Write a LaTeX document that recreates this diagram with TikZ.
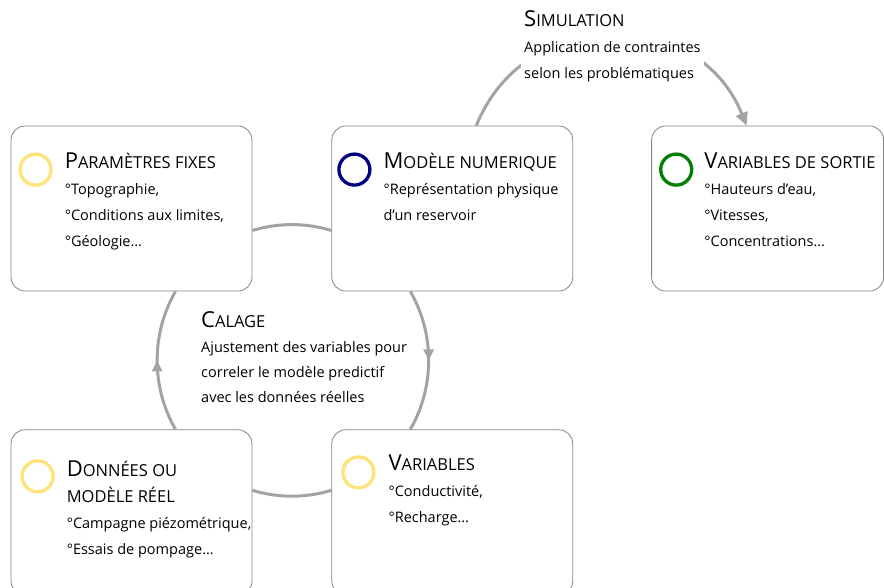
\documentclass[tikz,border=0pt]{standalone}
\usepackage{fontspec}
\setmainfont{Open Sans}
\usetikzlibrary{positioning,arrows.meta,decorations.markings}

\definecolor{jaune}{HTML}{FFE27A}
\definecolor{marine}{HTML}{000080}
\definecolor{vert}{HTML}{008000}
\definecolor{trait}{HTML}{A3A3A3}
\definecolor{bord}{HTML}{858585}

% fausses petites capitales pour les titres
\newcommand{\titrecap}[2]{{\fontsize{22}{26}\selectfont #1}{\fontsize{16.5}{26}\selectfont #2}}

\begin{document}
\begin{tikzpicture}[x=1pt,y=1pt,>={Triangle[length=13pt,width=12pt]},
		boite/.style={draw=bord, line width=0.8pt, rounded corners=14pt, fill=white,
			minimum width=241pt, minimum height=165pt, inner sep=0pt},
		icone/.style={circle, draw=#1, line width=3.3pt, minimum size=31pt, inner sep=0pt},
		texte/.style={align=left, anchor=north west, inner sep=0pt, font=\fontsize{14.5}{26}\selectfont},
		lien/.style={draw=trait, line width=3pt},
		milieu/.style={postaction={decorate}, decoration={markings,
				mark=at position 0.5 with {\arrow[trait]{Triangle[length=11pt,width=10pt]}}}}]
	\useasboundingbox (0,0) rectangle (884,587);
	\clip (0,0) rectangle (884,587);
	% les cinq blocs
	\node[boite] (param) at (131.5,378.5) {};
	\node[boite, right=79pt of param] (modele) {};
	\node[boite, minimum width=232pt, right=78pt of modele] (sortie) {};
	\node[boite, below=138pt of param] (donnees) {};
	\node[boite, below=138pt of modele] (variables) {};
	% pastilles
	\node[icone=jaune] (i-param) at ([shift={(25,-44)}]param.north west) {};
	\node[icone=marine] (i-modele) at ([shift={(23,-44)}]modele.north west) {};
	\node[icone=vert] (i-sortie) at ([shift={(25,-44)}]sortie.north west) {};
	\node[icone=jaune] (i-donnees) at ([shift={(27,-47)}]donnees.north west) {};
	\node[icone=jaune] (i-variables) at ([shift={(27,-43)}]variables.north west) {};
	% textes des blocs
	\node[texte] (t-param) at ([shift={(54,-27)}]param.north west)
		{\titrecap{P}{ARAMÈTRES FIXES}\\°Topographie,\\°Conditions aux limites,\\°Géologie…};
	\node[texte] (t-modele) at ([shift={(52,-27)}]modele.north west)
		{\titrecap{M}{ODÈLE NUMERIQUE}\\°Représentation physique\\d'un reservoir};
	\node[texte] (t-sortie) at ([shift={(53,-27)}]sortie.north west)
		{\titrecap{V}{ARIABLES DE SORTIE}\\°Hauteurs d'eau,\\°Vitesses,\\°Concentrations…};
	\node[texte] (t-donnees) at ([shift={(56,-31)}]donnees.north west)
		{\titrecap{D}{ONNÉES OU}\\\titrecap{}{MODÈLE RÉEL}\\°Campagne piézométrique,\\°Essais de pompage…};
	\node[texte] (t-variables) at ([shift={(57,-25)}]variables.north west)
		{\titrecap{V}{ARIABLES}\\°Conductivité,\\°Recharge…};
	% boucle de calage
	\draw[lien] ([yshift=-22]param.east) to[bend left=17, looseness=0.87] ([yshift=-22]modele.west);
	\draw[lien, milieu] ([xshift=-42]modele.south) to[bend left=30, looseness=0.91] ([xshift=-42]variables.north);
	\draw[lien] ([yshift=22]variables.west) to[bend left=17, looseness=0.87] ([yshift=22]donnees.east);
	\draw[lien, milieu] ([xshift=44]donnees.north) to[bend left=30, looseness=0.91] ([xshift=44]param.south);
	% simulation
	\draw[lien, ->, trait] ([xshift=24]modele.north) to[out=68, in=112, looseness=1.24] ([xshift=-21]sortie.north);
	\node[texte, fill=white, inner sep=3pt] (simul) at (521,580)
		{\titrecap{S}{IMULATION}\\Application de contraintes\\selon les problématiques};
	\node[texte, font=\fontsize{14.5}{25}\selectfont] (calage) at (201,276)
		{\titrecap{C}{ALAGE}\\Ajustement des variables pour\\correler le modèle predictif\\avec les données réelles};
\end{tikzpicture}
\end{document}
